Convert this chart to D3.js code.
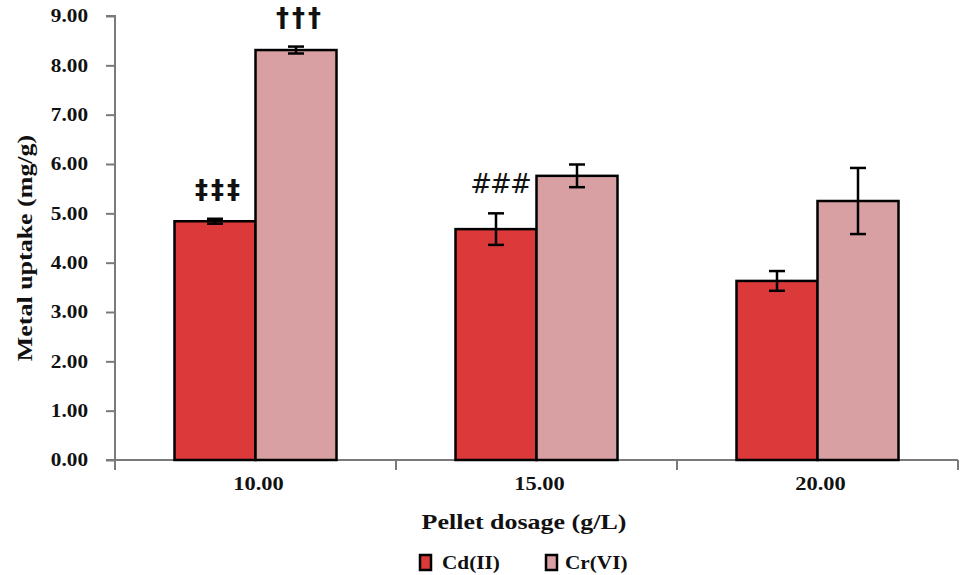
<!DOCTYPE html>
<html>
<head>
<meta charset="utf-8">
<script src="https://cdn.jsdelivr.net/npm/d3@7"></script>
<style>
  body { margin: 0; background: #fff; }
  svg { font-family: "Liberation Serif", "Times New Roman", serif; font-weight: bold; }
</style>
</head>
<body>
<svg id="chart" width="965" height="575"></svg>
<script>
// data
const dosages = ['10.00', '15.00', '20.00']
const series = ['Cd(II)', 'Cr(VI)']
const cdValues = [4.84, 4.68, 3.63]
const cdErrors = [0.05, 0.32, 0.20]
const crValues = [8.31, 5.76, 5.25]
const crErrors = [0.07, 0.23, 0.67]
const cdMarks = ['\u2021\u2021\u2021', '###', '']
const crMarks = ['\u2020\u2020\u2020', '', '']
const yTicks = [0, 1, 2, 3, 4, 5, 6, 7, 8, 9]

const colors = { 'Cd(II)': '#dc3a3a', 'Cr(VI)': '#d9a0a3' }

const rows = []
dosages.forEach((d, i) => {
    rows.push({ dose: d, s: 'Cd(II)', v: cdValues[i], e: cdErrors[i], mark: cdMarks[i] })
    rows.push({ dose: d, s: 'Cr(VI)', v: crValues[i], e: crErrors[i], mark: crMarks[i] })
})

// the original text is a little stretched sideways
const stretch = sel => sel.attr('lengthAdjust', 'spacingAndGlyphs')
    .attr('textLength', function () { return this.getComputedTextLength() * 1.18 })

const svg = d3.select('#chart')
const plotL = 115, plotR = 958, plotT = 16, plotB = 460

//scales
const x0 = d3.scaleBand().domain(dosages).range([plotL, plotR]).padding(0)
const pair = 162
const x1 = d3.scaleBand().domain(series)
    .range([(x0.bandwidth() - pair) / 2, (x0.bandwidth() + pair) / 2])
const y = d3.scaleLinear().domain([0, 9]).range([plotB, plotT])

// y axis
const yAxis = d3.axisLeft(y).tickValues(yTicks).tickFormat(d3.format('.2f')).tickSize(9).tickPadding(18)
const gy = svg.append('g').attr('transform', `translate(${plotL},0)`).call(yAxis)
gy.selectAll('path, line').attr('stroke', '#7a7a7a').attr('stroke-width', 2)
gy.select('.domain').attr('d', `M-9,${plotT}H0V${plotB}H-9`)
gy.selectAll('text').attr('font-size', 18).attr('fill', '#111')
    .attr('font-family', 'Liberation Serif').attr('font-weight', 'bold')
    .call(stretch)

// x axis, ticks on band edges
const gx = svg.append('g').attr('transform', `translate(0,${plotB})`)
gx.append('line').attr('x1', plotL).attr('x2', plotR).attr('stroke', '#7a7a7a').attr('stroke-width', 2)
const edges = dosages.map(d => x0(d)).concat([x0(dosages[dosages.length - 1]) + x0.bandwidth()])
gx.selectAll('.edge').data(edges).join('line')
    .attr('x1', d => d).attr('x2', d => d).attr('y1', 0).attr('y2', 10)
    .attr('stroke', '#7a7a7a').attr('stroke-width', 2)
gx.selectAll('.lab').data(dosages).join('text')
    .attr('x', d => x0(d) + x0.bandwidth() / 2 + 3)
    .attr('y', 30)
    .attr('text-anchor', 'middle')
    .attr('font-size', 19)
    .attr('fill', '#111')
    .text(d => d)
    .call(stretch)

// bars
const bars = svg.append('g')
bars.selectAll('rect').data(rows).join('rect')
    .attr('x', d => x0(d.dose) + x1(d.s))
    .attr('y', d => y(d.v))
    .attr('width', x1.bandwidth())
    .attr('height', d => plotB - y(d.v))
    .attr('fill', d => colors[d.s])
    .attr('stroke', '#000')
    .attr('stroke-width', 2.5)

// error bars
const cap = 8
const err = svg.append('g').attr('stroke', '#000').attr('stroke-width', 2.5)
rows.forEach(d => {
    const cx = x0(d.dose) + x1(d.s) + x1.bandwidth() / 2
    const y1 = y(d.v + d.e), y2 = y(d.v - d.e)
    err.append('line').attr('x1', cx).attr('x2', cx).attr('y1', y1).attr('y2', y2)
    err.append('line').attr('x1', cx - cap).attr('x2', cx + cap).attr('y1', y1).attr('y2', y1)
    err.append('line').attr('x1', cx - cap).attr('x2', cx + cap).attr('y1', y2).attr('y2', y2)
})

// significance marks
svg.append('g').selectAll('text').data(rows.filter(d => d.mark)).join('text')
    .attr('x', d => x0(d.dose) + x1(d.s) + x1.bandwidth() / 2 + 4)
    .attr('y', d => y(d.v + d.e) - 20)
    .attr('text-anchor', 'middle')
    .attr('font-family', 'DejaVu Sans')
    .attr('font-weight', d => d.mark === '###' ? 'normal' : 'bold')
    .attr('font-size', 26)
    .attr('letter-spacing', d => d.mark === '###' ? -2 : 3)
    .attr('fill', '#111')
    .text(d => d.mark)

// axis titles
svg.append('text')
    .attr('transform', `translate(32,${(plotT + plotB) / 2 + 10}) rotate(-90)`)
    .attr('text-anchor', 'middle')
    .attr('font-size', 22)
    .attr('fill', '#111')
    .text('Metal uptake (mg/g)')
    .call(stretch)

svg.append('text')
    .attr('x', 524).attr('y', 529)
    .attr('text-anchor', 'middle')
    .attr('font-size', 22)
    .attr('fill', '#111')
    .text('Pellet dosage (g/L)')
    .call(stretch)

// legend
const legX = [420, 546]
const leg = svg.append('g').selectAll('g').data(series).join('g')
    .attr('transform', (d, i) => `translate(${legX[i]},555)`)
leg.append('rect').attr('width', 11).attr('height', 15)
    .attr('fill', d => colors[d]).attr('stroke', '#000').attr('stroke-width', 2.5)
leg.append('text').attr('x', (d, i) => i === 0 ? 22 : 19).attr('y', 14)
    .attr('font-size', 18).attr('fill', '#111')
    .text(d => d)
    .call(stretch)
</script>
</body>
</html>
